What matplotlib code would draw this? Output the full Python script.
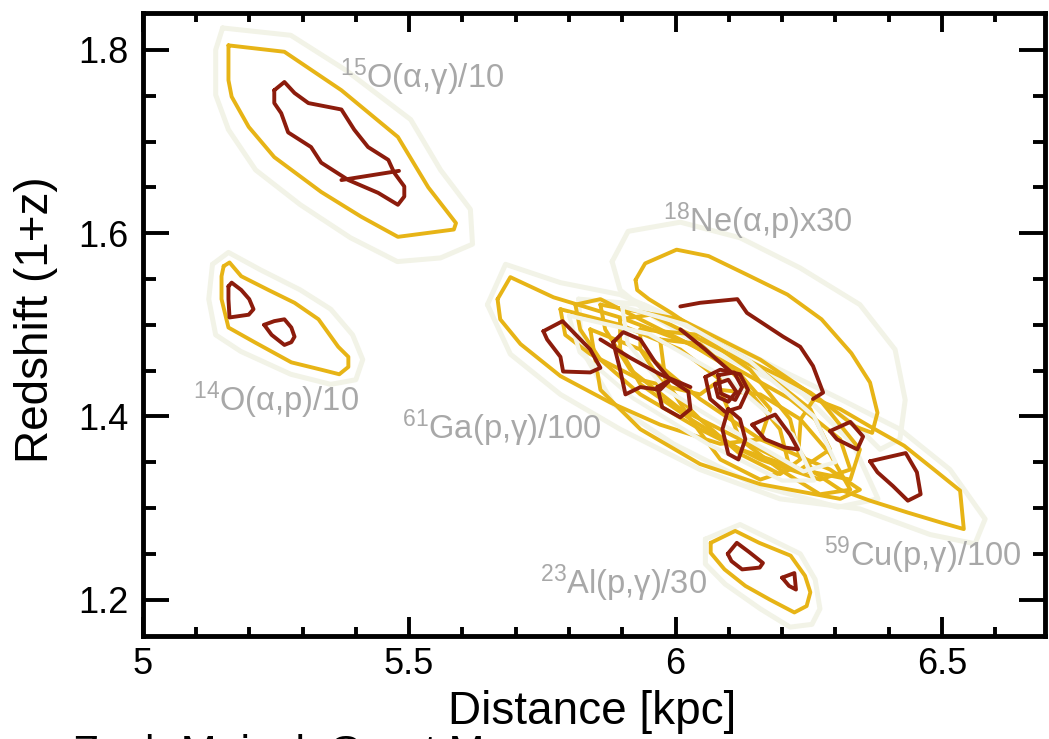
import matplotlib
matplotlib.use('Agg')
import matplotlib.pyplot as plt
from matplotlib.ticker import MultipleLocator

plt.rcParams['font.family'] = ['Liberation Sans', 'DejaVu Sans']
plt.rcParams['mathtext.fontset'] = 'custom'
plt.rcParams['mathtext.rm'] = 'Liberation Sans'
plt.rcParams['mathtext.default'] = 'regular'

DARK = '#8c1c0c'
GOLD = '#e7b416'
PALE = '#f2f3e7'
LABEL_GREY = '#a8a8a8'

# contour loops, (distance [kpc], redshift 1+z)
# 15O(a,g)/10
o15_pale = [(5.150, 1.824), (5.278, 1.816), (5.381, 1.778), (5.503, 1.724), (5.559, 1.669),
            (5.615, 1.626), (5.619, 1.588), (5.559, 1.573), (5.478, 1.569), (5.390, 1.595),
            (5.296, 1.631), (5.212, 1.669), (5.161, 1.713), (5.137, 1.751), (5.137, 1.800)]
o15_gold = [(5.161, 1.805), (5.266, 1.798), (5.373, 1.756), (5.479, 1.705), (5.536, 1.650),
            (5.588, 1.611), (5.584, 1.604), (5.479, 1.596), (5.410, 1.618), (5.335, 1.645),
            (5.247, 1.683), (5.199, 1.716), (5.167, 1.749), (5.161, 1.767)]
o15_dark = [(5.247, 1.756), (5.266, 1.765), (5.285, 1.753), (5.311, 1.742), (5.373, 1.735),
            (5.397, 1.713), (5.423, 1.694), (5.461, 1.680), (5.472, 1.666), (5.491, 1.651),
            (5.491, 1.640), (5.479, 1.631), (5.442, 1.644), (5.386, 1.658), (5.335, 1.677),
            (5.316, 1.694), (5.273, 1.710), (5.260, 1.731), (5.247, 1.742)]
o15_dark_chord = [(5.373, 1.658), (5.481, 1.668)]

# 14O(a,p)/10
o14_pale = [(5.131, 1.566), (5.161, 1.579), (5.221, 1.560), (5.296, 1.538), (5.353, 1.517),
            (5.394, 1.489), (5.413, 1.462), (5.400, 1.440), (5.353, 1.435), (5.278, 1.446),
            (5.184, 1.471), (5.137, 1.489), (5.124, 1.528)]
o14_gold = [(5.152, 1.564), (5.163, 1.568), (5.185, 1.553), (5.236, 1.538), (5.285, 1.524),
            (5.330, 1.506), (5.367, 1.476), (5.386, 1.465), (5.386, 1.454), (5.369, 1.446),
            (5.335, 1.451), (5.279, 1.459), (5.210, 1.481), (5.161, 1.497), (5.148, 1.528),
            (5.148, 1.553)]
o14_dark_a = [(5.161, 1.542), (5.167, 1.546), (5.185, 1.538), (5.200, 1.528), (5.208, 1.517),
              (5.199, 1.511), (5.163, 1.508), (5.161, 1.528)]
o14_dark_b = [(5.228, 1.500), (5.247, 1.504), (5.266, 1.506), (5.279, 1.497), (5.285, 1.487),
              (5.279, 1.481), (5.266, 1.478), (5.242, 1.489)]

# 23Al(p,g)/30
al23_pale = [(6.056, 1.266), (6.121, 1.282), (6.178, 1.266), (6.234, 1.250), (6.262, 1.222),
             (6.271, 1.190), (6.256, 1.173), (6.215, 1.170), (6.159, 1.190), (6.093, 1.217),
             (6.056, 1.239)]
al23_gold = [(6.066, 1.262), (6.112, 1.275), (6.157, 1.262), (6.216, 1.248), (6.243, 1.226),
             (6.253, 1.208), (6.246, 1.193), (6.223, 1.186), (6.177, 1.200), (6.131, 1.215),
             (6.092, 1.233), (6.066, 1.251)]
al23_dark_a = [(6.098, 1.250), (6.115, 1.262), (6.138, 1.252), (6.164, 1.240), (6.158, 1.235),
               (6.125, 1.233), (6.105, 1.242)]
al23_dark_b = [(6.200, 1.224), (6.223, 1.229), (6.226, 1.211), (6.213, 1.215)]

# 18Ne(a,p)x30
ne18_pale = [(5.881, 1.569), (5.911, 1.602), (6.009, 1.612), (6.121, 1.595), (6.234, 1.562),
             (6.346, 1.522), (6.412, 1.473), (6.431, 1.418), (6.421, 1.375), (6.384, 1.364),
             (6.346, 1.386), (6.271, 1.418), (6.159, 1.446), (6.046, 1.478), (5.953, 1.511),
             (5.896, 1.538)]
ne18_gold = [(5.925, 1.549), (5.943, 1.567), (6.002, 1.582), (6.062, 1.575), (6.133, 1.555),
             (6.210, 1.533), (6.274, 1.506), (6.330, 1.469), (6.365, 1.437), (6.379, 1.404),
             (6.369, 1.382), (6.337, 1.389), (6.295, 1.408), (6.253, 1.426), (6.196, 1.444),
             (6.133, 1.462), (6.048, 1.491), (5.992, 1.513), (5.950, 1.528), (5.928, 1.538)]
ne18_dark = [(6.009, 1.520), (6.046, 1.524), (6.116, 1.528), (6.134, 1.513), (6.202, 1.487),
             (6.234, 1.476), (6.258, 1.455), (6.277, 1.426), (6.258, 1.419)]

# 59Cu(p,g)/100
cu59_gold = [(6.260, 1.419), (6.309, 1.408), (6.365, 1.389), (6.429, 1.368), (6.485, 1.342),
             (6.534, 1.319), (6.541, 1.277), (6.499, 1.284), (6.436, 1.295), (6.365, 1.308),
             (6.309, 1.320), (6.260, 1.339), (6.231, 1.364), (6.235, 1.397)]
cu59_dark_a = [(6.365, 1.351), (6.432, 1.360), (6.453, 1.339), (6.460, 1.315), (6.436, 1.308),
               (6.408, 1.324), (6.379, 1.339)]
cu59_dark_b = [(6.290, 1.384), (6.328, 1.394), (6.352, 1.378), (6.341, 1.364), (6.303, 1.375)]

# 61Ga(p,g)/100 and the other rates piled up in the middle
core_pale_outer = [(5.647, 1.522), (5.681, 1.566), (5.784, 1.546), (5.896, 1.533), (6.046, 1.495),
                   (6.196, 1.451), (6.309, 1.419), (6.421, 1.386), (6.515, 1.342), (6.581, 1.288),
                   (6.562, 1.261), (6.478, 1.271), (6.346, 1.299), (6.196, 1.310), (6.046, 1.342),
                   (5.896, 1.386), (5.784, 1.424), (5.690, 1.468)]
core_pale_inner = [(5.818, 1.528), (5.940, 1.522), (6.090, 1.479), (6.240, 1.424), (6.333, 1.370),
                   (6.380, 1.310), (6.305, 1.301), (6.146, 1.326), (5.996, 1.370), (5.884, 1.413),
                   (5.824, 1.473)]
core_pale_mid_a = [(5.800, 1.510), (5.950, 1.490), (6.100, 1.440), (6.220, 1.380), (6.260, 1.330),
                   (6.200, 1.330), (6.060, 1.370), (5.920, 1.420), (5.820, 1.470)]
core_pale_mid_b = [(5.900, 1.520), (6.020, 1.500), (6.140, 1.460), (6.260, 1.400), (6.300, 1.350),
                   (6.240, 1.340), (6.120, 1.380), (5.980, 1.430), (5.910, 1.480)]
ga61_gold = [(5.666, 1.528), (5.690, 1.552), (5.771, 1.530), (5.896, 1.508), (6.028, 1.479),
             (6.121, 1.446), (6.178, 1.408), (6.159, 1.375), (6.084, 1.370), (5.971, 1.391),
             (5.878, 1.415), (5.784, 1.444), (5.709, 1.479), (5.671, 1.506)]
core_gold_a = [(5.812, 1.522), (5.859, 1.528), (5.971, 1.495), (6.084, 1.462), (6.215, 1.419),
               (6.309, 1.375), (6.328, 1.342), (6.271, 1.331), (6.159, 1.353), (6.046, 1.386),
               (5.934, 1.424), (5.859, 1.462), (5.821, 1.495)]
core_gold_b = [(5.896, 1.506), (5.953, 1.511), (6.046, 1.484), (6.159, 1.451), (6.253, 1.408),
               (6.290, 1.364), (6.234, 1.342), (6.121, 1.364), (6.028, 1.397), (5.934, 1.435),
               (5.896, 1.473)]
core_gold_c = [(5.971, 1.484), (6.046, 1.479), (6.121, 1.440), (6.196, 1.386), (6.215, 1.342),
               (6.159, 1.331), (6.084, 1.353), (6.028, 1.397), (5.981, 1.440)]
core_gold_d = [(5.840, 1.495), (5.934, 1.473), (6.046, 1.419), (6.159, 1.375), (6.290, 1.342),
               (6.346, 1.320), (6.309, 1.310), (6.159, 1.326), (6.046, 1.348), (5.934, 1.386),
               (5.859, 1.429)]
core_gold_e = [(6.084, 1.429), (6.159, 1.424), (6.234, 1.397), (6.290, 1.359), (6.328, 1.320),
               (6.271, 1.315), (6.196, 1.342), (6.121, 1.375)]
core_gold_f = [(5.859, 1.522), (6.009, 1.506), (6.159, 1.462), (6.271, 1.418), (6.346, 1.364),
               (6.328, 1.331), (6.234, 1.342), (6.121, 1.375), (6.009, 1.408), (5.915, 1.451),
               (5.868, 1.495)]
core_gold_g = [(5.934, 1.495), (6.046, 1.489), (6.140, 1.451), (6.215, 1.397), (6.234, 1.353),
               (6.196, 1.337), (6.121, 1.359), (6.046, 1.397), (5.971, 1.440), (5.934, 1.473)]
core_gold_h = [(5.784, 1.517), (5.896, 1.500), (6.009, 1.473), (6.084, 1.440), (6.046, 1.424),
               (5.934, 1.440), (5.840, 1.468), (5.793, 1.489)]
ga61_dark = [(5.752, 1.493), (5.788, 1.504), (5.840, 1.473), (5.859, 1.453), (5.840, 1.448),
             (5.789, 1.449), (5.784, 1.465), (5.759, 1.484)]
core_dark_a = [(5.883, 1.481), (5.902, 1.492), (5.934, 1.484), (5.962, 1.459), (5.990, 1.440),
               (5.971, 1.429), (5.934, 1.432), (5.906, 1.424), (5.896, 1.451)]
core_dark_b = [(5.966, 1.432), (5.990, 1.440), (6.024, 1.427), (6.028, 1.408), (6.009, 1.399),
               (5.975, 1.410)]
core_dark_c = [(6.056, 1.443), (6.084, 1.451), (6.121, 1.446), (6.136, 1.429), (6.121, 1.410),
               (6.093, 1.405), (6.065, 1.419)]
core_dark_d = [(6.074, 1.435), (6.099, 1.440), (6.114, 1.427), (6.099, 1.416), (6.080, 1.421)]
core_dark_e = [(6.099, 1.408), (6.121, 1.397), (6.131, 1.375), (6.118, 1.353), (6.099, 1.359),
               (6.088, 1.386)]
core_dark_f = [(6.144, 1.391), (6.187, 1.402), (6.215, 1.380), (6.230, 1.364), (6.206, 1.366),
               (6.168, 1.375)]
core_dark_g = [(6.080, 1.445), (6.110, 1.448), (6.125, 1.432), (6.112, 1.418), (6.085, 1.425)]
core_dark_line_a = [(5.859, 1.484), (5.915, 1.464), (5.971, 1.446), (6.028, 1.432)]
core_dark_line_b = [(6.009, 1.495), (6.056, 1.473), (6.103, 1.449)]

pale_loops = [o15_pale, o14_pale, al23_pale, core_pale_outer, ne18_pale, core_pale_inner]
pale_over = [core_pale_mid_a, core_pale_mid_b]
gold_loops = [o15_gold, o14_gold, al23_gold, ga61_gold, core_gold_a, core_gold_b,
              core_gold_c, core_gold_d, core_gold_e, core_gold_f, core_gold_g, core_gold_h,
              ne18_gold, cu59_gold]
dark_loops = [o15_dark, o14_dark_a, o14_dark_b, al23_dark_a, al23_dark_b, ga61_dark,
              core_dark_a, core_dark_b, core_dark_c, core_dark_d, core_dark_e, core_dark_f,
              core_dark_g, cu59_dark_a, cu59_dark_b]
dark_lines = [o15_dark_chord, ne18_dark, core_dark_line_a, core_dark_line_b]

labels = [r'$^{15}$O(α,γ)/10', r'$^{18}$Ne(α,p)x30', r'$^{14}$O(α,p)/10',
          r'$^{61}$Ga(p,γ)/100', r'$^{59}$Cu(p,γ)/100', r'$^{23}$Al(p,γ)/30']
label_x = [5.371, 5.977, 5.094, 5.4875, 6.279, 5.746]
label_y = [1.7586, 1.6015, 1.4058, 1.3749, 1.2369, 1.206]


def draw(ax, pts, color, lw, z, closed=True):
    xs = [p[0] for p in pts]
    ys = [p[1] for p in pts]
    if closed:
        xs.append(xs[0])
        ys.append(ys[0])
    ax.plot(xs, ys, color=color, linewidth=lw, zorder=z,
            solid_joinstyle='round', solid_capstyle='round')


def main():
    fig = plt.figure(figsize=(10.49, 7.39), dpi=100)
    ax = fig.add_axes([0.136, 0.139, 0.860, 0.843])

    for loop in pale_loops:
        draw(ax, loop, PALE, 3.6, 1)
    for loop in gold_loops:
        draw(ax, loop, GOLD, 2.8, 2)
    for loop in pale_over:
        draw(ax, loop, PALE, 3.0, 2.5)
    for loop in dark_loops:
        draw(ax, loop, DARK, 2.8, 3)
    for line in dark_lines:
        draw(ax, line, DARK, 2.8, 3, closed=False)

    for text, x, y in zip(labels, label_x, label_y):
        ax.text(x, y, text, color=LABEL_GREY, fontsize=23.5, ha='left', va='baseline', zorder=5)

    ax.set_xlim(5.0, 6.693)
    ax.set_ylim(1.16, 1.84)
    ax.xaxis.set_major_locator(MultipleLocator(0.5))
    ax.xaxis.set_minor_locator(MultipleLocator(0.1))
    ax.yaxis.set_major_locator(MultipleLocator(0.2))
    ax.yaxis.set_minor_locator(MultipleLocator(0.05))
    ax.xaxis.set_major_formatter(lambda v, pos: f'{v:g}')
    ax.yaxis.set_major_formatter(lambda v, pos: f'{v:.1f}')

    ax.tick_params(which='both', direction='in', top=True, right=True, width=2.8,
                   labelsize=26, colors='black')
    ax.tick_params(axis='x', which='major', length=13.5, pad=8)
    ax.tick_params(axis='x', which='minor', length=6.7)
    ax.tick_params(axis='y', which='major', length=18.5, pad=10)
    ax.tick_params(axis='y', which='minor', length=9)
    for spine in ax.spines.values():
        spine.set_linewidth(3.5)

    fig.text(36 / 1049, 1 - 320 / 739, 'Redshift (1+z)', rotation=90,
             ha='center', va='center', fontsize=33)
    fig.text(592 / 1049, 1 - 712 / 739, 'Distance [kpc]', ha='center', va='center', fontsize=33)
    fig.text(73 / 1049, 1 - 733 / 739, 'Zach Meisel, Grant Merz', ha='left', va='top', fontsize=31)

    fig.savefig('out.png', dpi=100)


if __name__ == '__main__':
    main()
